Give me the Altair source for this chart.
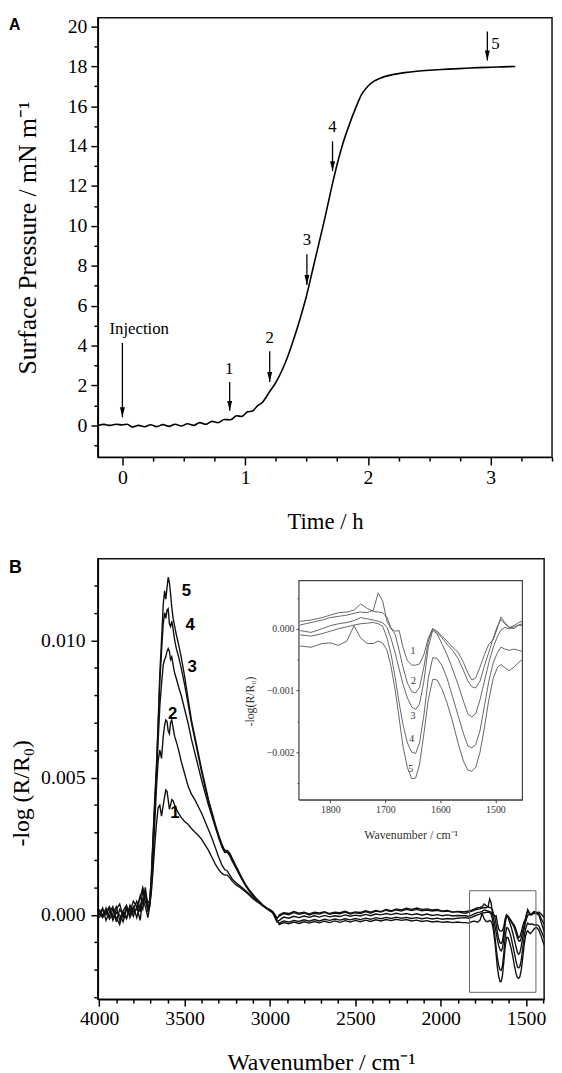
import altair as alt
import pandas as pd

SERIF = "Liberation Serif"
SANS = "Liberation Sans"

# ---------------- Panel A : surface pressure vs time ----------------
TIME_H = [-0.2, -0.15, -0.1, -0.05, 0.0, 0.04, 0.08, 0.13, 0.18, 0.23,
          0.28, 0.33, 0.38, 0.43, 0.48, 0.53, 0.58, 0.63, 0.68, 0.73,
          0.78, 0.83, 0.88, 0.93, 0.97, 1.02, 1.06, 1.1, 1.14, 1.2,
          1.25, 1.3, 1.35, 1.4, 1.45, 1.5, 1.55, 1.6, 1.65, 1.7,
          1.75, 1.8, 1.85, 1.9, 1.95, 2.0, 2.05, 2.1, 2.2, 2.3,
          2.4, 2.5, 2.6, 2.7, 2.8, 2.9, 3.0, 3.1, 3.2]
PRESSURE = [0.0, 0.05, 0.0, 0.06, 0.02, 0.06, -0.08, 0.0, -0.07, 0.03,
            -0.06, 0.04, -0.05, 0.06, -0.03, 0.08, 0.0, 0.14, 0.06, 0.2,
            0.14, 0.3, 0.28, 0.48, 0.45, 0.68, 0.72, 0.98, 1.15, 1.7,
            2.15, 2.75, 3.5, 4.4, 5.4, 6.5, 7.8, 9.1, 10.4, 11.8,
            13.1, 14.2, 15.1, 15.9, 16.6, 17.0, 17.25, 17.4, 17.58, 17.68,
            17.75, 17.8, 17.84, 17.87, 17.9, 17.93, 17.95, 17.97, 17.99]

ARROW_T = [0.0, 0.874, 1.2, 1.503, 1.712, 2.973]
ARROW_TOP = [4.13, 2.18, 3.72, 8.58, 14.24, 19.74]
ARROW_TIP = [0.41, 0.73, 2.18, 7.04, 12.74, 18.29]
ARROW_LABELS = ["Injection", "1", "2", "3", "4", "5"]
LABEL_T = [0.137, 0.87, 1.2, 1.503, 1.712, 3.04]
LABEL_P = [4.81, 2.83, 4.37, 9.31, 14.97, 19.1]

A_X_MAJOR = [0, 1, 2, 3]
A_X_MINOR = [0.25, 0.5, 0.75, 1.25, 1.5, 1.75, 2.25, 2.5, 2.75, 3.25, 3.5]
A_Y_MAJOR = [0, 2, 4, 6, 8, 10, 12, 14, 16, 18, 20]
A_Y_MINOR = [-1, 1, 3, 5, 7, 9, 11, 13, 15, 17, 19]

# ---------------- Panel B : IRRAS spectra (values x 0.001) ----------------
WN_HIGH = [4000, 3980, 3960, 3940, 3920, 3900, 3880, 3860, 3840, 3820, 3800, 3780, 3760, 3745, 3730, 3715,
           3705, 3695, 3685, 3675, 3665, 3655, 3645, 3635, 3625, 3617, 3610, 3603, 3596, 3589, 3582, 3575,
           3567, 3558, 3548,
           3535, 3520, 3500, 3480, 3460, 3440, 3420, 3400, 3380, 3360, 3340, 3320, 3300, 3280, 3265, 3250,
           3235, 3220, 3200, 3180, 3160, 3140, 3120, 3100, 3080, 3060, 3040, 3020, 3000, 2985, 2970, 2960]
HIGH_1 = [0.05, -0.1, 0.15, -0.05, 0.2, -0.1, -0.35, 0.1, -0.15, 0.25, -0.05, 0.3, -0.2, 0.6, 0.3, -0.1,
          0.3, 0.8, 1.6, 2.5, 3.3, 3.9, 4.0, 3.6, 4.0, 4.3, 4.55, 4.5, 4.2, 3.85, 4.0, 4.2, 4.15, 4.0, 3.85,
          3.7, 3.55, 3.4, 3.3, 3.15, 3.02, 2.9, 2.75, 2.55, 2.35, 2.1, 1.85, 1.65, 1.5, 1.45, 1.45,
          1.35, 1.22, 1.1, 1.02, 0.93, 0.83, 0.72, 0.6, 0.5, 0.42, 0.32, 0.25, 0.18, 0.12, 0.0, -0.15]
HIGH_2 = [-0.1, 0.2, 0.0, 0.25, -0.2, 0.1, 0.0, -0.25, 0.2, 0.0, 0.3, -0.1, 0.4, 0.2, 0.8, 0.1,
          0.3, 0.9, 2.0, 3.3, 4.6, 5.6, 6.0, 5.7, 6.5, 6.9, 7.1, 7.05, 6.7, 6.6, 7.0, 7.1, 6.8, 6.5, 6.3,
          6.0, 5.6, 5.15, 4.7, 4.4, 4.2, 3.95, 3.7, 3.4, 3.1, 2.8, 2.45, 2.1, 1.8, 1.65, 1.6,
          1.45, 1.3, 1.18, 1.08, 0.98, 0.87, 0.75, 0.63, 0.52, 0.43, 0.34, 0.26, 0.19, 0.12, 0.0, -0.12]
HIGH_3 = [0.15, -0.05, 0.25, -0.15, 0.05, 0.3, -0.2, 0.15, 0.35, -0.1, 0.2, 0.5, 0.1, 0.9, 0.5, 0.2,
          0.4, 1.2, 2.5, 3.8, 5.0, 6.3, 7.6, 8.4, 9.1, 9.3, 9.4, 9.6, 9.7, 9.6, 9.3, 9.4, 9.1, 8.8, 8.6,
          8.3, 8.0, 7.5, 7.0, 6.4, 5.9, 5.4, 4.9, 4.45, 4.0, 3.6, 3.2, 2.8, 2.45, 2.28, 2.28,
          2.15, 1.95, 1.72, 1.48, 1.25, 1.04, 0.86, 0.7, 0.56, 0.44, 0.33, 0.23, 0.14, 0.08, -0.1, -0.25]
HIGH_4 = [0.0, 0.25, -0.2, 0.1, 0.3, -0.25, 0.2, 0.0, -0.1, 0.35, 0.1, 0.2, 0.7, 0.4, 1.0, 0.3,
          0.4, 1.3, 2.7, 4.0, 5.2, 6.8, 8.5, 9.6, 10.6, 11.0, 10.8, 11.1, 11.15, 10.6, 10.5, 10.7, 10.4, 10.0, 9.7,
          9.4, 9.0, 8.4, 7.7, 7.0, 6.4, 5.8, 5.2, 4.65, 4.15, 3.7, 3.25, 2.85, 2.5, 2.3, 2.3,
          2.2, 2.0, 1.75, 1.5, 1.27, 1.05, 0.88, 0.72, 0.58, 0.46, 0.34, 0.24, 0.15, 0.1, -0.05, -0.2]
HIGH_5 = [0.2, 0.0, 0.1, 0.3, -0.1, 0.2, 0.4, -0.1, 0.3, 0.1, 0.5, 0.3, 0.6, 1.0, 0.7, 0.5,
          0.4, 1.4, 2.8, 4.2, 5.4, 7.0, 8.8, 10.0, 11.3, 11.8, 11.5, 11.9, 12.3, 12.1, 11.7, 11.2, 10.8, 10.5, 10.2,
          9.85, 9.4, 8.7, 7.9, 7.1, 6.5, 5.9, 5.3, 4.75, 4.2, 3.75, 3.3, 2.9, 2.55, 2.35, 2.35,
          2.25, 2.05, 1.8, 1.55, 1.3, 1.08, 0.9, 0.75, 0.6, 0.48, 0.35, 0.25, 0.15, 0.1, -0.05, -0.2]

WN_MID = [2945, 2920, 2890, 2860, 2830, 2800, 2770, 2740, 2710, 2680, 2650, 2620, 2590, 2560, 2530, 2500,
          2470, 2440, 2410, 2380, 2350, 2320, 2290, 2260, 2230, 2200, 2170, 2140, 2110, 2080, 2050, 2020,
          1990, 1960, 1930, 1900, 1875]
MID_1 = [0.0, 0.08, 0.05, 0.12, 0.06, 0.1, 0.04, 0.1, 0.07, 0.12, 0.05, 0.1, 0.08, 0.13, 0.06, 0.11,
         0.09, 0.15, 0.1, 0.16, 0.12, 0.2, 0.15, 0.22, 0.18, 0.24, 0.2, 0.25, 0.2, 0.22, 0.18, 0.2,
         0.14, 0.16, 0.1, 0.12, 0.08]
MID_2 = [-0.05, 0.05, 0.0, 0.08, 0.02, 0.07, 0.0, 0.06, 0.03, 0.09, 0.02, 0.07, 0.04, 0.1, 0.03, 0.08,
         0.05, 0.12, 0.06, 0.14, 0.1, 0.17, 0.12, 0.18, 0.14, 0.2, 0.16, 0.2, 0.15, 0.18, 0.14, 0.17,
         0.12, 0.14, 0.1, 0.13, 0.12]
MID_3 = [-0.2, -0.08, -0.12, -0.05, -0.1, -0.04, -0.09, -0.03, -0.08, -0.02, -0.07, -0.03, -0.06, 0.0, -0.05, -0.01,
         -0.04, 0.02, -0.03, 0.03, 0.0, 0.05, 0.01, 0.06, 0.02, 0.05, 0.0, 0.04, -0.01, 0.03, -0.02, 0.01,
         -0.03, 0.0, -0.04, -0.02, -0.03]
MID_4 = [-0.3, -0.22, -0.26, -0.2, -0.24, -0.18, -0.23, -0.17, -0.22, -0.16, -0.2, -0.15, -0.19, -0.14, -0.18, -0.13,
         -0.17, -0.12, -0.16, -0.1, -0.14, -0.09, -0.13, -0.08, -0.12, -0.09, -0.13, -0.1, -0.14, -0.11, -0.15, -0.12,
         -0.16, -0.13, -0.15, -0.12, -0.11]
MID_5 = [-0.35, -0.28, -0.32, -0.26, -0.31, -0.25, -0.3, -0.24, -0.29, -0.23, -0.28, -0.22, -0.27, -0.21, -0.26, -0.2,
         -0.25, -0.19, -0.24, -0.18, -0.22, -0.17, -0.21, -0.16, -0.2, -0.17, -0.22, -0.19, -0.24, -0.21, -0.26, -0.23,
         -0.27, -0.25, -0.28, -0.26, -0.28]

WN_LOW = [1855, 1835, 1815, 1800, 1785, 1770, 1757, 1745, 1733, 1722,
          1713, 1705, 1697, 1690, 1682, 1675, 1668, 1660, 1652, 1645,
          1638, 1630, 1622, 1614, 1606, 1597, 1588, 1578, 1568, 1558,
          1550, 1543, 1536, 1528, 1520, 1512, 1504, 1496, 1490, 1483,
          1475, 1466, 1458, 1451]
LOW_1 = [0.06, 0.10, 0.14, 0.18, 0.20, 0.22, 0.25, 0.27, 0.26, 0.30,
         0.58, 0.45, 0.12, 0.00, -0.04, -0.03, -0.30, -0.52, -0.59, -0.59,
         -0.57, -0.42, -0.15, 0.00, -0.04, -0.12, -0.20, -0.30, -0.38, -0.55,
         -0.72, -0.83, -0.80, -0.62, -0.42, -0.25, -0.18, 0.02, 0.19, 0.10,
         0.02, 0.00, 0.06, 0.05]
LOW_2 = [0.12, 0.14, 0.18, 0.22, 0.26, 0.27, 0.30, 0.40, 0.33, 0.28,
         0.27, 0.26, 0.18, 0.02, -0.10, -0.35, -0.62, -0.88, -1.02, -1.04,
         -0.95, -0.62, -0.20, 0.00, -0.06, -0.15, -0.25, -0.35, -0.48, -0.68,
         -0.85, -0.94, -0.96, -0.85, -0.60, -0.38, -0.15, 0.05, 0.15, 0.08,
         0.02, 0.05, 0.10, 0.12]
LOW_3 = [-0.03, -0.06, 0.00, 0.05, 0.08, 0.10, 0.13, 0.18, 0.16, 0.14,
         0.12, 0.10, 0.02, -0.15, -0.40, -0.65, -0.90, -1.12, -1.27, -1.31,
         -1.22, -0.85, -0.30, -0.03, -0.08, -0.25, -0.42, -0.65, -0.90, -1.18,
         -1.38, -1.43, -1.38, -1.15, -0.85, -0.55, -0.30, -0.12, -0.02, 0.02,
         0.00, 0.03, 0.06, 0.08]
LOW_4 = [-0.10, -0.12, -0.08, -0.04, 0.00, 0.03, 0.06, 0.08, 0.09, 0.10,
         0.08, 0.04, -0.15, -0.40, -0.80, -1.20, -1.55, -1.85, -2.00, -2.02,
         -1.85, -1.40, -0.80, -0.47, -0.48, -0.60, -0.80, -1.10, -1.40, -1.70,
         -1.90, -1.93, -1.88, -1.65, -1.25, -0.85, -0.55, -0.38, -0.30, -0.33,
         -0.35, -0.33, -0.35, -0.37]
LOW_5 = [-0.28, -0.30, -0.24, -0.23, -0.27, -0.20, 0.05, -0.15, -0.24, -0.24,
         -0.20, -0.23, -0.35, -0.60, -1.00, -1.45, -1.90, -2.25, -2.43, -2.42,
         -2.20, -1.70, -1.15, -0.82, -0.83, -0.98, -1.20, -1.50, -1.85, -2.15,
         -2.29, -2.31, -2.25, -2.00, -1.60, -1.15, -0.80, -0.62, -0.58, -0.63,
         -0.68, -0.62, -0.55, -0.50]

WN_EXT = [1440, 1425, 1410, 1394]
EXT_1 = [0.06, 0.10, 0.02, -0.10]
EXT_2 = [0.10, 0.05, -0.15, -0.35]
EXT_3 = [0.05, 0.00, -0.30, -0.60]
EXT_4 = [-0.35, -0.40, -0.60, -0.85]
EXT_5 = [-0.45, -0.55, -0.80, -1.10]

CURVE_NAMES = ["1", "2", "3", "4", "5"]
MAIN_LABEL_WN = [3556, 3570, 3455, 3467, 3490]
MAIN_LABEL_Y = [0.00372, 0.00733, 0.00903, 0.01057, 0.0118]
INSET_LABEL_WN = [1650, 1649, 1650, 1652, 1654]
INSET_LABEL_Y = [-0.00036, -0.00084, -0.00141, -0.00179, -0.00228]

B_X_MAJOR = [4000, 3500, 3000, 2500, 2000, 1500]
B_X_MINOR = [3900, 3800, 3700, 3600, 3400, 3300, 3200, 3100, 2900, 2800, 2700, 2600,
             2400, 2300, 2200, 2100, 1900, 1800, 1700, 1600, 1400]
B_Y_MAJOR = [0.0, 0.005, 0.010]
B_Y_MINOR = [-0.003, -0.002, -0.001, 0.001, 0.002, 0.003, 0.004, 0.006, 0.007, 0.008, 0.009, 0.011, 0.012]
I_X_MAJOR = [1800, 1700, 1600, 1500]
I_Y_MAJOR = [0.0, -0.001, -0.002]
I_Y_MINOR = [0.0005, -0.0005, -0.0015, -0.0025]

BOX_WN = [1831, 1442]
BOX_Y = [0.00088, -0.00282]
INSET_WN = [1857, 1451]
INSET_Y = [0.00078, -0.00277]

# ---------------- build tables ----------------
HIGHS = [HIGH_1, HIGH_2, HIGH_3, HIGH_4, HIGH_5]
MIDS = [MID_1, MID_2, MID_3, MID_4, MID_5]
LOWS = [LOW_1, LOW_2, LOW_3, LOW_4, LOW_5]
EXTS = [EXT_1, EXT_2, EXT_3, EXT_4, EXT_5]
WN_ALL = WN_HIGH + WN_MID + WN_LOW + WN_EXT
rows, inset_rows = [], []
for name, h, m, lo, e in zip(CURVE_NAMES, HIGHS, MIDS, LOWS, EXTS):
    vals = h + m + lo + e
    assert len(vals) == len(WN_ALL), (name, len(vals), len(WN_ALL))
    for w, v in zip(WN_ALL, vals):
        rows.append({"wn": w, "v": v / 1000.0, "curve": name})
    for w, v in zip(WN_LOW, lo):
        inset_rows.append({"wn": w, "v": v / 1000.0, "curve": name})
dfB = pd.DataFrame(rows)
dfI = pd.DataFrame(inset_rows)

dfA = pd.DataFrame({"t": TIME_H, "p": PRESSURE})
dfArr = pd.DataFrame({"t": ARROW_T, "top": ARROW_TOP, "tip": ARROW_TIP})
dfArrLab = pd.DataFrame({"t": LABEL_T, "p": LABEL_P, "lab": ARROW_LABELS})

AX = dict(labelFont=SERIF, titleFont=SERIF, labelColor="black", titleColor="black")

# ---------------- Panel A ----------------
WA, HA = 460, 445
xA = alt.Scale(domain=[-0.2, 3.5], nice=False, zero=False)
yA = alt.Scale(domain=[-1.59, 20.43], nice=False, zero=False)

curveA = alt.Chart(dfA).mark_line(color="black", strokeWidth=1.6, interpolate="monotone").encode(
    x=alt.X("t:Q", scale=xA, axis=alt.Axis(
        orient="bottom", values=A_X_MAJOR, tickSize=8, labelFontSize=20, labelPadding=3,
        title="Time  /  h", titleFontSize=23, titleY=65, titleBaseline="middle", **AX)),
    y=alt.Y("p:Q", scale=yA, axis=alt.Axis(
        orient="left", values=A_Y_MAJOR, tickSize=7, labelFontSize=20, labelPadding=4,
        title="Surface Pressure / mN m⁻¹", titleFontSize=26, titleX=-71,
        titleBaseline="middle", titleAngle=270, **AX)),
)
minorA = alt.Chart(dfA).mark_line(strokeOpacity=0).encode(
    x=alt.X("t:Q", scale=xA, axis=alt.Axis(orient="bottom", values=A_X_MINOR, tickSize=4,
                                           labels=False, domain=False, title=None)),
    y=alt.Y("p:Q", scale=yA, axis=alt.Axis(orient="left", values=A_Y_MINOR, tickSize=4,
                                           labels=False, domain=False, title=None)),
)
rulesA = alt.Chart(dfArr).mark_rule(color="black", strokeWidth=1.3).encode(
    x=alt.X("t:Q", scale=xA, axis=None),
    y=alt.Y("top:Q", scale=yA, axis=None),
    y2="tip:Q",
)
headsA = alt.Chart(dfArr).mark_point(shape="M-1,-4L1,-4L0,0Z", filled=True, color="black",
                                     opacity=1, size=25).encode(
    x=alt.X("t:Q", scale=xA, axis=None),
    y=alt.Y("tip:Q", scale=yA, axis=None),
)
labA = alt.Chart(dfArrLab).mark_text(font=SERIF, fontSize=17, color="black",
                                     align="center", baseline="middle").encode(
    x=alt.X("t:Q", scale=xA, axis=None),
    y=alt.Y("p:Q", scale=yA, axis=None),
    text="lab:N",
)
tagA = alt.Chart(pd.DataFrame({"tag": ["A"]})).mark_text(
    font=SANS, fontSize=16, fontWeight="bold", color="black", align="left", baseline="alphabetic"
).encode(x=alt.value(-90), y=alt.value(12), text="tag:N")

panelA = alt.layer(curveA, minorA, rulesA, headsA, labA, tagA).resolve_axis(
    x="independent", y="independent").properties(width=WA, height=HA)

# ---------------- Panel B ----------------
WB, HB = 452, 446
xB = alt.Scale(domain=[1394, 4008], reverse=True, nice=False, zero=False)
yB = alt.Scale(domain=[-0.00307, 0.01297], nice=False, zero=False)
xI = alt.Scale(domain=[1451, 1857], reverse=True, range=[203.7, 430], nice=False, zero=False)
yI = alt.Scale(domain=[-0.00277, 0.00078], range=[244, 22], nice=False, zero=False)

mainB = alt.Chart(dfB).mark_line(color="#111", strokeWidth=1.4, clip=True).encode(
    x=alt.X("wn:Q", scale=xB, axis=alt.Axis(
        orient="bottom", values=B_X_MAJOR, format="d", tickSize=7, labelFontSize=20, labelPadding=3,
        title="Wavenumber / cm⁻¹", titleFontSize=24, titleY=64, titleBaseline="middle", **AX)),
    y=alt.Y("v:Q", scale=yB, axis=alt.Axis(
        orient="left", values=B_Y_MAJOR, format=".3f", tickSize=7, labelFontSize=20, labelPadding=6,
        title="-log (R/R₀)", titleFontSize=24, titleX=-77, titleY=237,
        titleBaseline="middle", titleAngle=270, **AX)),
    detail="curve:N",
)
minorB = alt.Chart(dfB).mark_line(strokeOpacity=0).encode(
    x=alt.X("wn:Q", scale=xB, axis=alt.Axis(orient="bottom", values=B_X_MINOR, tickSize=4,
                                            labels=False, domain=False, title=None)),
    y=alt.Y("v:Q", scale=yB, axis=alt.Axis(orient="left", values=B_Y_MINOR, tickSize=4,
                                           labels=False, domain=False, title=None)),
    detail="curve:N",
)
boxB = alt.Chart(pd.DataFrame({"x1": [BOX_WN[0]], "x2": [BOX_WN[1]],
                               "y1": [BOX_Y[0]], "y2": [BOX_Y[1]]})).mark_rect(
    fill="white", fillOpacity=0, stroke="#666", strokeWidth=1).encode(
    x=alt.X("x1:Q", scale=xB, axis=None), x2="x2:Q",
    y=alt.Y("y1:Q", scale=yB, axis=None), y2="y2:Q",
)
labB = alt.Chart(pd.DataFrame({"wn": MAIN_LABEL_WN, "v": MAIN_LABEL_Y, "lab": CURVE_NAMES})).mark_text(
    font=SANS, fontSize=17, fontWeight="bold", color="black", align="center", baseline="middle").encode(
    x=alt.X("wn:Q", scale=xB, axis=None),
    y=alt.Y("v:Q", scale=yB, axis=None),
    text="lab:N",
)
insetBg = alt.Chart(pd.DataFrame({"x1": [INSET_WN[0]], "x2": [INSET_WN[1]],
                                  "y1": [INSET_Y[0]], "y2": [INSET_Y[1]]})).mark_rect(
    fill="white", stroke="#444", strokeWidth=1.2).encode(
    x=alt.X("x1:Q", scale=xI, axis=None), x2="x2:Q",
    y=alt.Y("y1:Q", scale=yI, axis=None), y2="y2:Q",
)
insetLines = alt.Chart(dfI).mark_line(color="#555", strokeWidth=0.9).encode(
    x=alt.X("wn:Q", scale=xI, axis=alt.Axis(
        orient="bottom", offset=-(HB - 244), values=I_X_MAJOR, format="d", tickSize=3,
        labelFontSize=10, labelPadding=2, labelFont=SERIF, labelColor="#333",
        domainColor="#444", domainWidth=1.2, tickColor="#444", tickWidth=1,
        title="Wavenumber  / cm⁻¹", titleFont=SERIF, titleFontSize=12,
        titleColor="#333", titleY=35, titleBaseline="middle")),
    y=alt.Y("v:Q", scale=yI, axis=alt.Axis(
        orient="left", offset=-203.7, values=I_Y_MAJOR, format=".3f", tickSize=3,
        labelFontSize=10, labelPadding=2, labelFont=SERIF, labelColor="#333",
        domainColor="#444", domainWidth=1.2, tickColor="#444", tickWidth=1,
        title="-log(R/R₀)", titleFont=SERIF, titleFontSize=12, titleColor="#333",
        titleX=-50, titleY=144, titleBaseline="middle", titleAngle=270)),
    detail="curve:N",
)
insetMinor = alt.Chart(dfI).mark_line(strokeOpacity=0).encode(
    x=alt.X("wn:Q", scale=xI, axis=None),
    y=alt.Y("v:Q", scale=yI, axis=alt.Axis(
        orient="left", offset=-203.7, values=I_Y_MINOR, tickSize=2, labels=False, domain=False,
        tickColor="#444", tickWidth=1, title=None)),
    detail="curve:N",
)
insetLab = alt.Chart(pd.DataFrame({"wn": INSET_LABEL_WN, "v": INSET_LABEL_Y, "lab": CURVE_NAMES})).mark_text(
    font=SERIF, fontSize=10, color="#333", align="center", baseline="middle").encode(
    x=alt.X("wn:Q", scale=xI, axis=None),
    y=alt.Y("v:Q", scale=yI, axis=None),
    text="lab:N",
)
tagB = alt.Chart(pd.DataFrame({"tag": ["B"]})).mark_text(
    font=SANS, fontSize=18, fontWeight="bold", color="black", align="left", baseline="alphabetic"
).encode(x=alt.value(-90), y=alt.value(14), text="tag:N")

panelB = alt.layer(mainB, minorB, boxB, labB, insetBg, insetLines, insetMinor, insetLab, tagB).resolve_scale(
    x="independent", y="independent").properties(width=WB, height=HB)

chart = alt.vconcat(panelA, panelB, spacing=24).properties(
    padding={"left": 0, "top": 0, "right": 0, "bottom": 0},
    background="white",
).configure(
    font=SERIF
).configure_view(
    stroke="#111", strokeWidth=1.5
).configure_axis(
    domainColor="black", tickColor="black", domainWidth=1.5, tickWidth=1.5,
    labelFont=SERIF, titleFont=SERIF, labelColor="black", titleColor="black",
    titleFontWeight="normal", grid=False, labelFlush=False, labelOverlap=False
)

chart.save("out.html", embed_options={"renderer": "svg", "actions": False})
